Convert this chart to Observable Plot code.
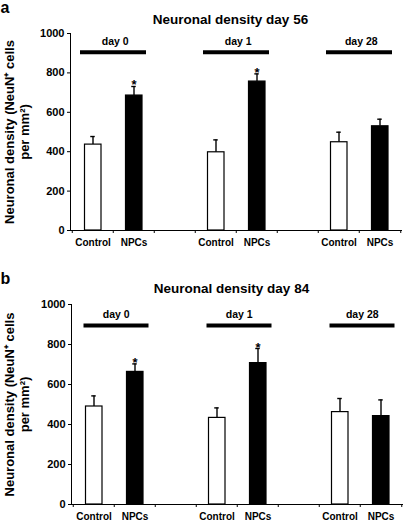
<!DOCTYPE html>
<html><head><meta charset="utf-8">
<script src="https://cdn.jsdelivr.net/npm/d3@7"></script>
<script src="https://cdn.jsdelivr.net/npm/@observablehq/plot@0.6"></script>
<style>
body{margin:0;background:#fff;}
#chart{width:406px;}
svg{display:block;}
</style></head><body><div id="chart"></div>
<script>
// ---- data ----
const treatments = ["Control", "NPCs"];
const groups = ["day 0", "day 1", "day 28"];
const slots = ["Control·day 0", "NPCs·day 0", "gap 1", "Control·day 1", "NPCs·day 1", "gap 2", "Control·day 28", "NPCs·day 28"];
const yTicks = [0, 200, 400, 600, 800, 1000];
const meanDay56 = [436, 685, 397, 756, 448, 529];
const semDay56 = [41, 46, 63, 39, 51, 36];
const meanDay84 = [490, 663, 433, 707, 462, 442];
const semDay84 = [53, 40, 50, 73, 68, 81];
const sigDay56 = [false, true, false, true, false, false];
const sigDay84 = [false, true, false, true, false, false];
const titles = ["Neuronal density day 56", "Neuronal density day 84"];
const panelLetters = ["a", "b"];
const yLabel = "Neuronal density (NeuN⁺ cells\nper mm²)";
const groupBarLevel = [905, 895];
const groupLabelLevel = [940, 932];

function buildRows(means, sems, sigs) {
  const rows = [];
  groups.forEach((g, gi) => treatments.forEach((t, ti) => {
    const i = gi * 2 + ti;
    rows.push({slot: `${t}·${g}`, treatment: t, group: g, mean: means[i], top: means[i] + sems[i], sig: sigs[i]});
  }));
  return rows;
}
const groupRows = groups.map(g => ({name: g, start: `Control·${g}`, end: `NPCs·${g}`}));

const FONT = '"Liberation Sans", Arial, Helvetica, sans-serif';

function panel(idx, rows, cfg) {
  const bw = (406 - cfg.ml - cfg.mr) / slots.length;
  return Plot.plot({
    width: 406, height: cfg.h,
    marginTop: cfg.mt, marginBottom: cfg.mb, marginLeft: cfg.ml, marginRight: cfg.mr,
    style: {fontFamily: FONT, fontWeight: "bold", fontSize: "10px", background: "#fff", color: "#000", overflow: "visible"},
    x: {domain: slots, padding: 0, axis: null},
    y: {domain: [0, 1000], axis: null},
    marks: [
      Plot.barY(rows, {x: "slot", y: "mean", fill: d => d.treatment === "NPCs" ? "#000" : "#fff", stroke: "#000", strokeWidth: 1.2, insetLeft: 12.5, insetRight: 12}),
      Plot.ruleX(rows, {x: "slot", y1: "mean", y2: "top", stroke: "#000", strokeWidth: 1.4}),
      Plot.tickY(rows, {x: "slot", y: "top", stroke: "#000", strokeWidth: 1.4, insetLeft: (bw - 5) / 2, insetRight: (bw - 5) / 2}),
      Plot.text(rows.filter(d => d.sig), {x: "slot", y: "top", text: () => "*", lineAnchor: "bottom", dy: 3, fontSize: 13}),
      Plot.ruleY(groupRows, {x1: "start", x2: "end", y: () => groupBarLevel[idx], stroke: "#000", strokeWidth: 4, insetLeft: cfg.gl, insetRight: cfg.gr}),
      Plot.text(groupRows, {x: "start", y: () => groupLabelLevel[idx], text: "name", dx: bw / 2 + 1.5, lineAnchor: "bottom", fontSize: 10.5}),
      Plot.ruleY([0], {stroke: "#000"}),
      Plot.frame({anchor: "left", stroke: "#000"}),
      Plot.axisY({ticks: yTicks, tickSize: 3, tickPadding: 3, fontSize: 11, label: null, tickFormat: d => String(d)}),
      Plot.axisX({tickSize: 0, tickPadding: 8, fontSize: 10, label: null, tickFormat: s => s.startsWith("gap") ? "" : s.split("·")[0]}),
      Plot.axisX({tickSize: 3, label: null, tickFormat: () => "", dx: -bw / 2}),
      Plot.axisX([slots[slots.length - 1]], {tickSize: 3, label: null, tickFormat: () => "", dx: bw / 2}),
      Plot.text([yLabel], {frameAnchor: "left", textAnchor: "middle", rotate: -90, dx: 16 - cfg.ml, lineHeight: 1.15, lineAnchor: "middle", fontSize: 13}),
      Plot.text([titles[idx]], {frameAnchor: "top", dx: cfg.titleX - (cfg.ml + 406 - cfg.mr) / 2, dy: cfg.titleY - cfg.mt, lineAnchor: "bottom", fontSize: 13.5}),
      Plot.text([panelLetters[idx]], {frameAnchor: "top-left", textAnchor: "start", dx: -cfg.ml, dy: cfg.letterY - cfg.mt, lineAnchor: "bottom", fontSize: 16})
    ]
  });
}

const chart = document.getElementById("chart");
chart.append(panel(0, buildRows(meanDay56, semDay56, sigDay56),
  {h: 260, mt: 33, mb: 30, ml: 70, mr: 4, gl: 8, gr: 8, titleX: 230, titleY: 23, letterY: 12}));
chart.append(panel(1, buildRows(meanDay84, semDay84, sigDay84),
  {h: 263, mt: 44, mb: 19, ml: 71, mr: 3, gl: 10.5, gr: 6.5, titleX: 231, titleY: 32, letterY: 23}));
</script></body></html>
